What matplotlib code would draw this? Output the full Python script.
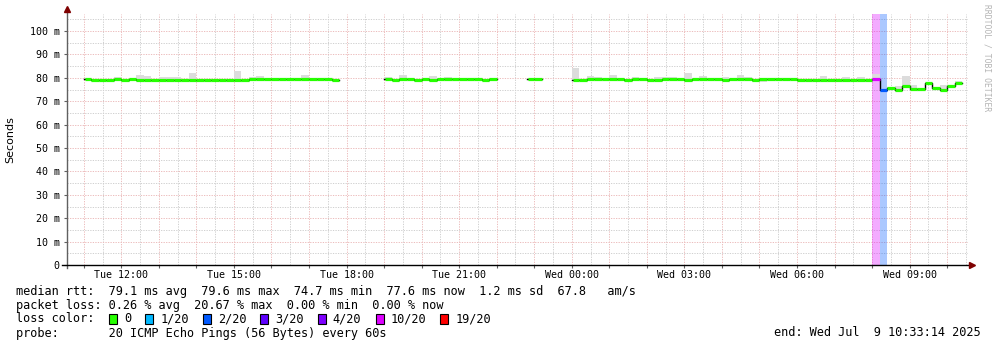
import numpy as np
import matplotlib
matplotlib.use('Agg')
import matplotlib.pyplot as plt
from matplotlib.patches import Rectangle

W, H = 997, 347

# time axis in hours since Tue 00:00, data consolidated in 12 min bins
bin_len = 0.2
first_bin = 11.0
x_start, x_end = 10.554, 34.554

nan = np.nan
M, D, L = 79.5, 79.1, 79.25

# median rtt in ms, one row per hour (11:00 Tue .. 10:00 Wed), 5 bins per row
median_rows = [
    [M, D, D, D, M],                      # 11
    [D, M, L, L, L],                      # 12
    [L, L, L, L, L],                      # 13
    [L, L, L, L, L],                      # 14
    [L, L, M, M, M],                      # 15
    [M, M, M, M, M],                      # 16
    [M, M, M, D, nan],                    # 17
    [nan, nan, nan, nan, nan],            # 18
    [M, D, M, M, D],                      # 19
    [M, D, M, M, M],                      # 20
    [M, M, M, D, M],                      # 21
    [nan, nan, nan, nan, M],              # 22
    [M, nan, nan, nan, nan],              # 23
    [D, D, M, M, M],                      # 00
    [M, M, D, M, M],                      # 01
    [D, D, M, M, M],                      # 02
    [D, M, M, M, M],                      # 03
    [D, M, M, M, D],                      # 04
    [M, M, M, M, M],                      # 05
    [L, L, L, L, L],                      # 06
    [L, L, L, L, L],                      # 07
    [M, 74.8, 75.6, 74.9, 76.4],          # 08
    [75.2, 75.2, 77.6, 75.6, 75.0],       # 09
    [76.4, 77.6, nan, nan, nan],          # 10
]

# bins where the smoke (spread of the 20 pings) reaches higher / lower
spike_at = [11.8, 12.4, 12.6, 13.0, 13.2, 13.4, 13.8, 15.0, 15.4, 15.6, 16.8,
            19.0, 19.4, 20.2, 20.6, 24.0, 24.4, 24.6, 25.0, 25.6, 26.2, 26.4,
            26.6, 27.0, 27.4, 28.0, 28.4, 28.6, 30.6, 31.2, 31.6, 32.0, 32.6,
            32.8, 33.0, 33.8, 34.2]
spike_top = [80.3, 81.2, 80.8, 80.3, 80.3, 80.3, 82.0, 82.9, 80.3, 80.8, 81.2,
             80.3, 81.2, 80.8, 80.3, 84.2, 80.8, 80.3, 81.2, 80.3, 80.3, 80.3,
             80.3, 82.0, 80.8, 80.3, 81.2, 80.3, 80.8, 80.3, 80.3, 81.6, 76.5,
             80.8, 76.8, 76.9, 78.6]
dip_at = [14.0, 15.2, 28.8, 29.0]
dip_bottom = [78.3, 78.3, 78.4, 78.4]

# lost pings (of 20) per bin, all others 0
loss_at = [32.0, 32.2]
loss_count = [10, 2]

loss_labels = ['0', '1/20', '2/20', '3/20', '4/20', '10/20', '19/20']
loss_levels = [0, 1, 2, 3, 4, 10, 19]
loss_colors = ['#26ff00', '#00b8ff', '#0059ff', '#5e00ff', '#7e00ff', '#dd00ff', '#ff0000']

hour_labels = {12: 'Tue 12:00', 15: 'Tue 15:00', 18: 'Tue 18:00', 21: 'Tue 21:00',
               24: 'Wed 00:00', 27: 'Wed 03:00', 30: 'Wed 06:00', 33: 'Wed 09:00'}

stats_line = 'median rtt:  79.1 ms avg  79.6 ms max  74.7 ms min  77.6 ms now  1.2 ms sd  67.8   am/s'
loss_line = 'packet loss: 0.26 % avg  20.67 % max  0.00 % min  0.00 % now'
probe_line = 'probe:       20 ICMP Echo Pings (56 Bytes) every 60s'
end_line = 'end: Wed Jul  9 10:33:14 2025'

# ---------------------------------------------------------------
median = np.array(median_rows, dtype=float).ravel()
t = first_bin + bin_len * np.arange(len(median))
valid = ~np.isnan(median)

hi = median + 0.35
lo = median - 0.35
for h, v in zip(spike_at, spike_top):
    hi[np.isclose(t, h)] = v
for h, v in zip(dip_at, dip_bottom):
    lo[np.isclose(t, h)] = v

loss = np.zeros(len(median), dtype=int)
for h, v in zip(loss_at, loss_count):
    loss[np.isclose(t, h)] = v


def loss_color(n):
    c = loss_colors[0]
    for lvl, col in zip(loss_levels, loss_colors):
        if n >= lvl:
            c = col
    return c


mono = 'DejaVu Sans Mono'
plt.rcParams['font.family'] = mono

fig = plt.figure(figsize=(W / 100, H / 100), dpi=100)
fig.patch.set_facecolor('white')
ax = fig.add_axes([67 / W, (H - 265) / H, (968 - 67) / W, (265 - 14) / H])
ax.set_xlim(x_start, x_end)
ax.set_ylim(0, 107.3)

# grid
major_c, minor_c = '#ecbcbc', '#d0d0d0'
for h in np.arange(10.5, 35, 0.5):
    if x_start < h < x_end:
        is_major = abs(h - round(h)) < 1e-6
        ax.axvline(h, color=major_c if is_major else minor_c, lw=0.7,
                   ls=(0, (1.3, 1.3)), zorder=0)
for v in range(5, 108, 5):
    ax.axhline(v, color=major_c if v % 10 == 0 else minor_c, lw=0.7,
               ls=(0, (1.3, 1.3)), zorder=0)

# loss background
for i in np.where(loss > 0)[0]:
    ax.axvspan(t[i], t[i] + bin_len, color=loss_color(loss[i]), alpha=0.33, lw=0, zorder=1)

# smoke
ax.bar(t[valid], (hi - lo)[valid], bottom=lo[valid], width=bin_len, align='edge',
       color='#dcdcdc', lw=0, zorder=2)

# thin black median line with connectors
xs, ys = [], []
for i in range(len(median)):
    if not valid[i]:
        xs.append(nan)
        ys.append(nan)
        continue
    xs += [t[i], t[i] + bin_len]
    ys += [median[i], median[i]]
ax.plot(xs, ys, color='black', lw=1.0, zorder=3)

# coloured median by loss (a pixel of black left at the start of each run)
for i in np.where(valid)[0]:
    run_start = i == 0 or not valid[i - 1]
    x0 = t[i] + (0.03 if run_start else 0.0)
    ax.hlines(median[i], x0, t[i] + bin_len, color=loss_color(loss[i]),
              lw=2.3, zorder=4, capstyle='butt')

# axes and ticks
for s in ax.spines.values():
    s.set_visible(False)
ax.plot([0, 0], [-0.012, 1.01], transform=ax.transAxes, color='#606060', lw=1,
        clip_on=False, zorder=5)
ax.plot([-0.006, 1.003], [0, 0], transform=ax.transAxes, color='black', lw=1,
        clip_on=False, zorder=5)
ax.plot([0], [1.02], marker='^', ms=4, color='#7f0000', transform=ax.transAxes,
        clip_on=False, zorder=6)
ax.plot([1.004], [0], marker='>', ms=4, color='#7f0000', transform=ax.transAxes,
        clip_on=False, zorder=6)

hours = [h for h in range(11, 35)]
ax.set_xticks(hours)
ax.set_xticklabels([hour_labels.get(h, '') for h in hours])
ax.set_yticks(range(0, 101, 10))
ax.set_yticklabels(['0'] + ['%d m' % v for v in range(10, 101, 10)])
ax.tick_params(axis='x', length=2, width=0.8, color='#606060', pad=1.5, labelsize=7.2)
ax.tick_params(axis='y', length=2, width=0.8, color='#606060', pad=3.2, labelsize=7.2)

fig.text(10 / W, 1 - 140 / H, 'Seconds', rotation=90, ha='center', va='center',
         fontsize=8, family='DejaVu Sans')
fig.text(987 / W, 1 - 4 / H, 'RRDTOOL / TOBI OETIKER', rotation=270, ha='center',
         va='top', fontsize=5.8, color='#b4b4b4')

# legend block
fs = 8.55
cw = 0.602 * fs * 100 / 72
fig.text(16 / W, 1 - 291 / H, stats_line, fontsize=fs, va='center')
fig.text(16 / W, 1 - 305 / H, loss_line, fontsize=fs, va='center')
fig.text(16 / W, 1 - 319 / H, 'loss color:', fontsize=fs, va='center')
fig.text(16 / W, 1 - 333 / H, probe_line, fontsize=fs, va='center')
fig.text(981 / W, 1 - 333 / H, end_line, fontsize=fs, va='center', ha='right')

bx = 109
for lab, col in zip(loss_labels, loss_colors):
    fig.patches.append(Rectangle((bx / W, 1 - 324 / H), 8 / W, 10 / H, transform=fig.transFigure,
                                 facecolor=col, edgecolor='black', lw=0.8))
    tx = bx + 15
    fig.text(tx / W, 1 - 319 / H, lab, fontsize=fs, va='center')
    bx = tx + len(lab) * cw + 14

fig.savefig('out.png', dpi=100, facecolor='white')
